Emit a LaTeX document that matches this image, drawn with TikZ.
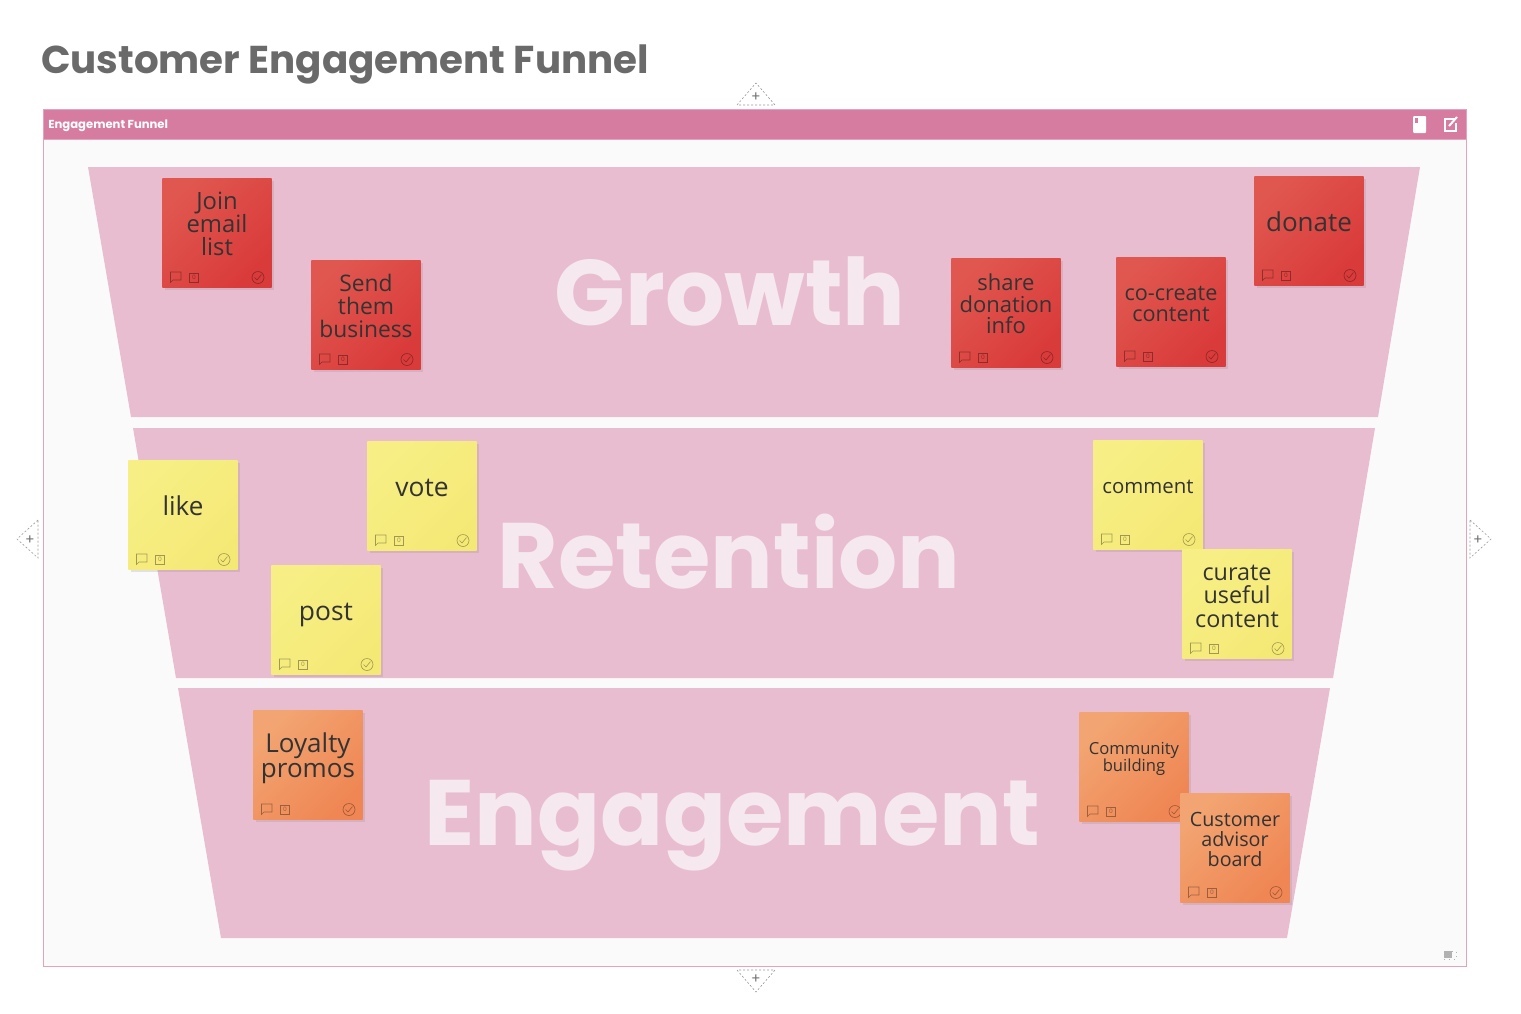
\documentclass[tikz,border=0pt]{standalone}
\usepackage{fontspec}
\setmainfont{Poppins}
\newfontfamily\heavyfont[Ligatures=NoCommon]{Poppins}
\newfontfamily\notefont{Open Sans}
\newcommand{\notesize}[2]{\notefont\fontsize{#1}{#2}\selectfont\lineskiplimit=-10pt\relax}
\usetikzlibrary{shadows}
\definecolor{framepink}{HTML}{D67CA1}
\definecolor{funnelpink}{HTML}{E9BDD0}
\definecolor{wordpink}{HTML}{F5E8EE}
\definecolor{titlegray}{HTML}{6A6A6A}
\definecolor{noteredA}{HTML}{E0574F}
\definecolor{noteredB}{HTML}{D93A3A}
\definecolor{noteyellowA}{HTML}{F7EF85}
\definecolor{noteyellowB}{HTML}{F5E976}
\definecolor{noteorangeA}{HTML}{F2A572}
\definecolor{noteorangeB}{HTML}{EF8653}
\tikzset{
    funnel/.style={fill=funnelpink, draw=none}, % bands of the funnel
    stage/.style={text=wordpink, font=\heavyfont\bfseries\fontsize{46.5}{46.5}\selectfont, inner sep=0pt},
    note/.style={minimum size=54.6pt, inner sep=0pt,
        drop shadow={opacity=0.2, shadow xshift=1.2pt, shadow yshift=-1.2pt}},
    rednote/.style={note, left color=noteredA, right color=noteredB, shading angle=45},
    yellownote/.style={note, left color=noteyellowA, right color=noteyellowB, shading angle=45},
    orangenote/.style={note, left color=noteorangeA, right color=noteorangeB, shading angle=45},
    notetext/.style={text=black!80, align=center, inner sep=0pt},
    handle/.style={draw=black!40, dash pattern=on 1pt off 1pt, line width=0.3pt},
    plus/.style={text=black!55, font=\fontsize{7}{7}\selectfont, inner sep=0pt},
    iconline/.style={draw=black, draw opacity=0.35, line width=0.3pt},
    note icons/.pic={
        \draw[iconline] (8.5,-16) -- (19,-16) -- (19,-8) -- (11,-8) -- (8.5,-5.5) -- cycle;
        \node[iconline, minimum size=4.5pt, inner sep=0pt, text=black, text opacity=0.35,
            font=\fontsize{3}{3}\selectfont] (zero) at (32,-10.5) {0};
        \draw[iconline] (96,-10.5) circle (6);
        \draw[iconline] (92.5,-10.5) -- (95,-8) -- (99.5,-13.5);
    }
}
\begin{document}
\begin{tikzpicture}[x=0.5pt, y=-0.5pt]
    \useasboundingbox[fill=white] (0,0) rectangle (1521,1013);
    \node[text=titlegray, font=\heavyfont\bfseries\fontsize{19.4}{19.4}\selectfont, inner sep=0pt] (title) at (345,64) {Customer Engagement Funnel};

    % frame and its header
    \fill[framepink, draw=framepink!70!white, line width=0.5pt] (43,109) rectangle (1466,139);
    \draw[fill=black!2, draw=framepink!70!white, line width=0.5pt] (43,139) rectangle (1466,966);
    \node[text=white, font=\heavyfont\bfseries\fontsize{5.8}{5.8}\selectfont, inner sep=0pt, anchor=west] (header) at (48,126) {Engagement Funnel};
    \fill[white, rounded corners=0.5pt] (1413,116) rectangle (1426,133);
    \fill[framepink] (1415,118) rectangle (1418,123);
    \draw[white, line width=0.7pt] (1455,119) -- (1445,119) -- (1445,131) -- (1456,131) -- (1456,123);
    \draw[white, line width=1pt] (1449,126) -- (1457,117);
    \fill[black!30] (1444,951) rectangle (1452,958);
    \draw[black!30, dotted, line width=0.3pt] (1452,951) -- (1456,951) -- (1456,959) -- (1444,959);

    % funnel
    \fill[funnel] (88,167) -- (1420,167) -- (1378,417) -- (131,417) -- cycle;
    \fill[funnel] (133,428) -- (1375,428) -- (1333,678) -- (176,678) -- cycle;
    \fill[funnel] (178,688) -- (1330,688) -- (1287,938) -- (221,938) -- cycle;
    \node[stage] (growth) at (730,291) {Growth};
    \node[stage] (retention) at (729,552) {Retention};
    \node[stage] (engagement) at (732,826) {Engagement};

    % handles on the four sides
    \draw[handle] (737,105) -- (756,83) -- (775,105) -- cycle;
    \draw[handle] (737,970) -- (756,992) -- (775,970) -- cycle;
    \draw[handle] (38,520) -- (17,539) -- (38,558) -- cycle;
    \draw[handle] (1470,520) -- (1491,539) -- (1470,558) -- cycle;
    \node[plus] (plustop) at (756,97) {+};
    \node[plus] (plusbottom) at (756,979) {+};
    \node[plus] (plusleft) at (30,540) {+};
    \node[plus] (plusright) at (1478,540) {+};

    % notes: name/left/top/kind/size/leading/text offset/text
    \foreach \id/\x/\y/\kind/\size/\lead/\dy/\txt in {
        join/162/178/rednote/11.9/11.6/46/{Join\\email\\list},
        send/311/260/rednote/11.4/11.6/46/{Send\\them\\business},
        share/951/258/rednote/11/10.8/46/{share\\donation\\info},
        cocreate/1116/257/rednote/10.8/10.8/47/{co-create\\content},
        donate/1254/176/rednote/13/14/46/{donate},
        like/128/460/yellownote/13/14/46/{like},
        vote/367/441/yellownote/13.2/14/47/{vote},
        post/271/565/yellownote/13.2/14/50/{post},
        comment/1093/440/yellownote/10.2/11/47/{comment},
        curate/1182/549/yellownote/11.7/11.7/47/{curate\\useful\\content},
        loyalty/253/710/orangenote/13/12.7/48.5/{Loyalty\\promos},
        community/1079/712/orangenote/8.3/8.5/47/{Community\\building},
        customer/1180/793/orangenote/9.85/10/46/{Customer\\advisor\\board}} {
        \node[\kind, anchor=north west] (\id) at (\x,\y) {};
        \node[notetext, font=\notesize{\size}{\lead}] (\id-text) at (\x+55,\y+\dy) {\txt};
        \pic (\id-icons) at (\x,\y+110) {note icons};
    }
\end{tikzpicture}
\end{document}
